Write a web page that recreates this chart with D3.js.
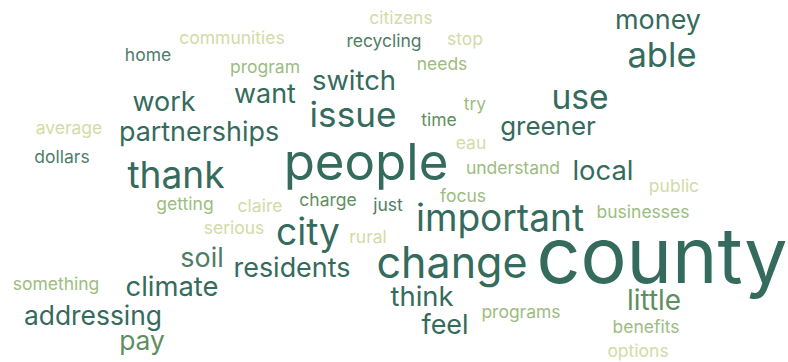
<!DOCTYPE html>
<html>
<head>
<meta charset="utf-8">
<script src="https://cdn.jsdelivr.net/npm/d3@7"></script>
<style>
  html, body { margin: 0; padding: 0; background: #ffffff; }
  svg { display: block; }
  text { font-family: "Inter", "Noto Sans", sans-serif; font-weight: 400; }
</style>
</head>
<body>
<svg id="chart" width="788" height="362"></svg>
<script>
// ---- data ----
const words = ["county","people","change","important","thank","issue","city","able","use",
  "greener","local","switch","want","work","partnerships","residents","climate","addressing",
  "think","feel","soil","little","money","pay",
  "citizens","communities","recycling","stop","home","program","needs","try","time","average",
  "eau","dollars","understand","public","focus","charge","getting","claire","just","businesses",
  "serious","rural","something","programs","benefits","options"];
const counts = [30,19.5,16.3,13.9,13.9,13.1,13.9,12.9,12.5,
  9.4,10,10,9.8,9.8,9.8,9.8,10,9.6,
  10,9.8,9.8,10.2,9.8,9.6,
  6,6,6,6,6,6,6,6,6,6,
  6,6,6,6,6,6,6,6,6,6,
  6,6,6,6,6,6];
// tone group of each word (0 = darkest … 4 = palest)
const tones = [0,0,0,0,0,0,0,0,0,
  0,0,0,0,0,0,0,0,0,
  0,0,1,2,0,2,
  4,4,1,4,1,3,3,3,2,4,
  4,1,3,4,3,2,3,4,1,3,
  4,4,3,3,3,4];

// ---- layout (word centre x, baseline y) in layout units ----
const layoutX = [662,366,452,500,176,353,308,662,580,
  548,603,354,265,164,199,292,172,93,
  422,445,202,654,658,142,
  401,232,384,465,148,265,442,475,439,69,
  471,62,513,674,463,328,185,260,388,643,
  234,368,56,521,646,638];
const layoutY = [283,180,278,231,188,127,245,67,109,
  135,180,90,103,111,141,277,296,325,
  306,334,267,310,29,350,
  24,44,47,45,61,73,70,110,126,134,
  149,163,174,192,202,206,210,212,211,218,
  234,243,290,318,333,357];

const svg = d3.select("#chart");
const W = 788, H = 362;
const x = d3.scaleLinear().domain([0, 788]).range([0, W]);
const y = d3.scaleLinear().domain([0, 362]).range([0, H]);
const size = d3.scaleLinear().domain([6, 30]).range([17.5, 77]);
const color = d3.scaleOrdinal().domain([0,1,2,3,4])
  .range(["#356b5d", "#4f7d68", "#5f8f5f", "#9dbc82", "#d3dba6"]);

const rows = words.map((w, i) => ({w, c: counts[i], t: tones[i], lx: layoutX[i], ly: layoutY[i]}));

svg.append("g").selectAll("text").data(rows).join("text")
  .attr("x", d => x(d.lx))
  .attr("y", d => y(d.ly))
  .attr("text-anchor", "middle")
  .attr("font-size", d => size(d.c))
  .attr("fill", d => color(d.t))
  .text(d => d.w);
</script>
</body>
</html>
